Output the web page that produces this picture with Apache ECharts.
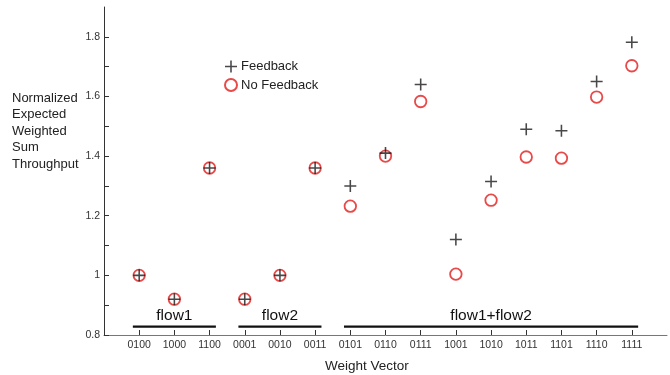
<!DOCTYPE html>
<html><head><meta charset="utf-8">
<script src="https://cdn.jsdelivr.net/npm/echarts@6/dist/echarts.min.js"></script>
<style>html,body{margin:0;padding:0;background:#fff}#c{width:670px;height:375px}</style>
</head><body><div id="c"></div>
<script>
var categories = ['0100','1000','1100','0001','0010','0011','0101','0110','0111','1001','1010','1011','1101','1110','1111'];
var feedback   = [1.00, 0.92, 1.36, 0.92, 1.00, 1.36, 1.30, 1.41, 1.64, 1.12, 1.315, 1.49, 1.485, 1.65, 1.782];
var noFeedback = [1.00, 0.92, 1.36, 0.92, 1.00, 1.36, 1.232, 1.40, 1.583, 1.004, 1.252, 1.397, 1.393, 1.598, 1.703];
// groups: label, first category index, last category index
var groupNames = ['flow1', 'flow2', 'flow1+flow2'];
var groupFirst = [0, 3, 6];
var groupLast  = [2, 5, 14];
var groupLevel = 0.828;
var yTicks = [0.8, 1, 1.2, 1.4, 1.6, 1.8];
var yMinorTicks = [0.8, 0.9, 1, 1.1, 1.2, 1.3, 1.4, 1.5, 1.6, 1.7, 1.8];

var FONT = '"Liberation Sans", Arial, sans-serif';
var plusPath = 'path://M0,8.7h20v2.6h-20zM8.7,0h2.6v20h-2.6z';

function toPairs(vals){ return vals.map(function(v,i){ return [i+1, v]; }); }
var groupData = groupNames.map(function(n,i){ return [groupFirst[i]+1, groupLast[i]+1, groupLevel, n]; });

var chart = echarts.init(document.getElementById('c'), null, {renderer:'canvas'});
chart.setOption({
  animation: false,
  backgroundColor: '#fff',
  title: [
    { text: 'Normalized\nExpected\nWeighted\nSum\nThroughput', left: 12, top: 90, padding: 0,
      textStyle: { fontFamily: FONT, fontSize: 13, fontWeight: 'normal', color: '#222', lineHeight: 16.5 } },
    { text: 'Weight Vector', left: 325, top: 359, padding: 0,
      textStyle: { fontFamily: FONT, fontSize: 13.5, fontWeight: 'normal', color: '#222' } }
  ],
  legend: {
    orient: 'vertical', left: 224, top: 60, padding: 0, itemGap: 5, itemWidth: 12, itemHeight: 12,
    data: ['Feedback', 'No Feedback'],
    textStyle: { fontFamily: FONT, fontSize: 13, color: '#222', padding: [0,0,0,-1] }
  },
  grid: { left: 104, top: 7, width: 563, height: 328, containLabel: false },
  xAxis: {
    type: 'value', min: 0, max: 16, interval: 1,
    splitLine: { show: false },
    axisLine: { show: true, lineStyle: { color: '#777', width: 1 } },
    axisTick: { show: true, inside: true, length: 5, lineStyle: { color: '#333' },
      customValues: categories.map(function(c,i){ return i+1; }) },
    axisLabel: { fontFamily: FONT, fontSize: 10.5, color: '#333', margin: 5,
      customValues: categories.map(function(c,i){ return i+1; }),
      formatter: function(v){ return categories[Math.round(v)-1] || ''; } }
  },
  yAxis: {
    type: 'value', min: 0.8, max: 1.9, interval: 0.1,
    splitLine: { show: false },
    axisLine: { show: true, lineStyle: { color: '#333', width: 1 } },
    axisTick: { show: true, inside: true, length: 5, lineStyle: { color: '#333' }, customValues: yMinorTicks },
    axisLabel: { fontFamily: FONT, fontSize: 10.5, color: '#333', margin: 4,
      customValues: yTicks,
      formatter: function(v){ return String(+v.toFixed(1)); } }
  },
  series: [
    { name: 'No Feedback', type: 'scatter', data: toPairs(noFeedback), symbol: 'circle', symbolSize: 11.5,
      itemStyle: { color: 'transparent', borderColor: '#e21b1b', borderWidth: 1.8 }, z: 2 },
    { name: 'Feedback', type: 'scatter', data: toPairs(feedback), symbol: plusPath, symbolSize: 12,
      symbolKeepAspect: true, itemStyle: { color: '#1a1a1a' }, z: 3 },
    { name: 'groups', type: 'custom', data: groupData, z: 4, silent: true,
      renderItem: function(params, api){
        var a = api.coord([api.value(0) - 0.18, api.value(2)]);
        var b = api.coord([api.value(1) + 0.18, api.value(2)]);
        return { type: 'group', children: [
          { type: 'line', shape: { x1: a[0], y1: a[1], x2: b[0], y2: b[1] },
            style: { stroke: '#111', lineWidth: 2.2 } },
          { type: 'text', x: (a[0]+b[0])/2, y: a[1] - 3,
            style: { text: groupNames[params.dataIndex], fontFamily: FONT, fontSize: 15.5,
              fill: '#111', align: 'center', verticalAlign: 'bottom' } }
        ]};
      }
    }
  ]
});
</script></body></html>
